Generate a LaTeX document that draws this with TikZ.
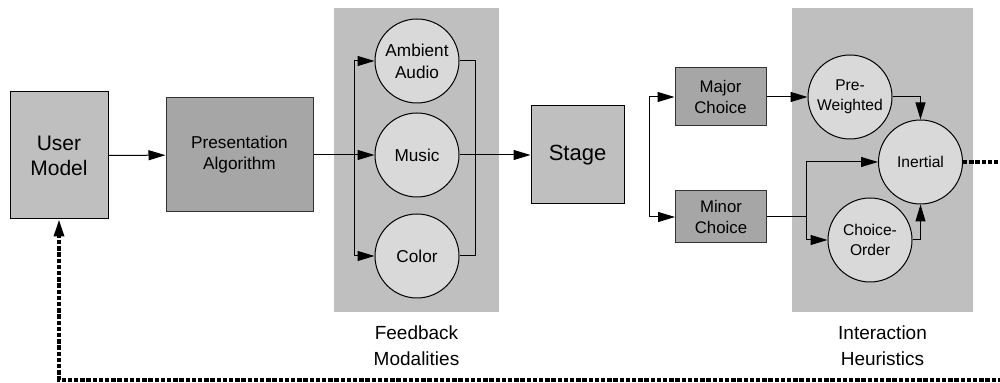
\documentclass[tikz,border=0pt]{standalone}
\usepackage{fontspec}
\setmainfont{Liberation Sans}
\usetikzlibrary{arrows.meta, positioning}

\definecolor{panelgray}{gray}{0.75}
\definecolor{darkbox}{gray}{0.65}
\definecolor{lightnode}{gray}{0.85}

\begin{document}
\begin{tikzpicture}[x=0.5pt,y=-0.5pt,>={Triangle[length=8.5pt,width=5pt]},
 line width=0.5pt,
 block/.style={draw,fill=panelgray,inner sep=0pt,align=center},
 dark block/.style={block,fill=darkbox,draw=black!80},
 mode/.style={circle,draw,fill=lightnode,minimum size=42pt,inner sep=0pt,align=center,
   font=\fontsize{8.6}{11}\selectfont},
 panel/.style={fill=panelgray,inner sep=0pt},
 caption/.style={align=center,font=\fontsize{9.5}{13}\selectfont},
 feedback/.style={->,line width=1.6pt,dash pattern=on 2.2pt off 0.9pt}]
  \clip (0,0) rectangle (1000,383);

  % shaded groups
  \node[panel,minimum width=82.5pt,minimum height=152pt] (fbpanel) at (416.5,160) {};
  \node[panel,minimum width=90.5pt,minimum height=152pt] (hpanel) at (882.5,160) {};
  \node[caption,below=3pt of fbpanel] {Feedback\\Modalities};
  \node[caption,below=3pt of hpanel] {Interaction\\Heuristics};

  % main chain
  \node[block,minimum width=49pt,minimum height=63.5pt,font=\fontsize{10.5}{12.5}\selectfont] (um) at (59,155.5) {User\\Model};
  \node[dark block,minimum width=73.5pt,minimum height=57pt,font=\fontsize{8.6}{10.5}\selectfont] (pa) at (239.5,155) {Presentation\\Algorithm};
  \node[mode] (amb) at (417,61) {Ambient\\Audio};
  \node[mode] (music) at (417,155) {Music};
  \node[mode] (col) at (417,256) {Color};
  \node[block,minimum width=46.5pt,minimum height=49pt,font=\fontsize{11}{13}\selectfont] (stage) at (577.5,155) {Stage};
  \node[dark block,minimum width=45.5pt,minimum height=29pt,font=\fontsize{8.4}{10.5}\selectfont] (major) at (720.5,97) {Major\\Choice};
  \node[dark block,minimum width=45.5pt,minimum height=26pt,font=\fontsize{8.4}{10.5}\selectfont] (minor) at (721,217) {Minor\\Choice};
  \node[mode,font=\fontsize{7.8}{10}\selectfont] (prew) at (850,97) {Pre-\\Weighted};
  \node[mode,font=\fontsize{7.8}{10}\selectfont] (inert) at (920.5,162) {Inertial};
  \node[mode,font=\fontsize{7.8}{10}\selectfont] (chord) at (870,240) {Choice-\\Order};

  % bus points
  \coordinate (fbin) at (354,155);
  \coordinate (fbout) at (475,155);
  \coordinate (split) at (649,155);
  \coordinate (msplit) at (806,217);
  \coordinate (back) at (1010,380);

  \foreach \s/\t in {um/pa, pa/music, music/stage, major/prew}
    \draw[->] (\s) -- (\t);

  \draw[->] (fbin) |- (amb);
  \draw[->] (fbin) |- (col);
  \draw (amb) -| (fbout);
  \draw (col) -| (fbout);

  \draw[->] (split) |- (major);
  \draw[->] (split) |- (minor);
  \draw (minor) -- (msplit);
  \draw[->] (msplit) |- (inert);
  \draw[->] (msplit) |- (chord);
  \draw[->] (prew) -| (inert);
  \draw[->] (chord) -| (inert);

  % loop back to the user model
  \draw[feedback] (inert) -| (back) -| (um);
\end{tikzpicture}
\end{document}
